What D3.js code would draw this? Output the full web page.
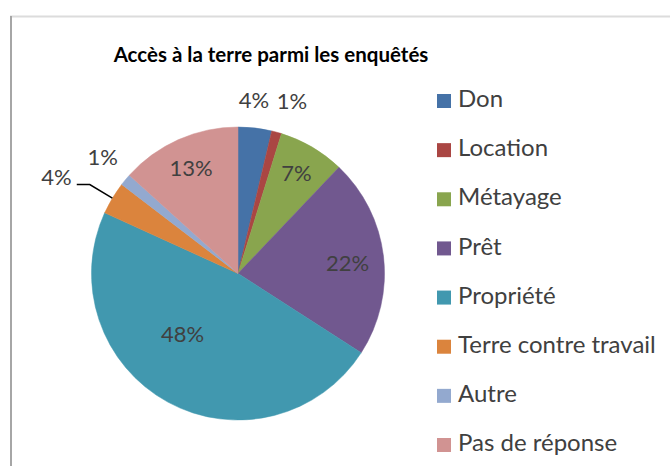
<!DOCTYPE html>
<html>
<head>
<meta charset="utf-8">
<script src="https://cdn.jsdelivr.net/npm/d3@7"></script>
<style>
  html, body { margin: 0; padding: 0; background: #fff; }
  svg { display: block; }
</style>
</head>
<body>
<svg id="chart" width="670" height="466"></svg>
<script>
// ---- data ----
const categories = ["Don", "Location", "Métayage", "Prêt", "Propriété", "Terre contre travail", "Autre", "Pas de réponse"];
const values = [3.7, 1.1, 7.3, 22.0, 47.7, 3.6, 1.3, 13.3];
const labels = ["4%", "1%", "7%", "22%", "48%", "4%", "1%", "13%"];
const colors = ["#4572A7", "#AA4643", "#89A54E", "#71588F", "#4198AF", "#DB843D", "#93A9CF", "#D19392"];
const title = "Accès à la terre parmi les enquêtés";

// ---- label placement (radius factor, angle nudge in degrees, leader) ----
const labelPlace = [
  { r: 1.17, da: -1.3 },
  { r: 1.22, da: 2.3 },
  { r: 0.78, da: 0.3 },
  { r: 0.75, da: 2.4 },
  { r: 0.57, da: 13.0 },
  { r: 1.18, da: 0, leader: true },
  { r: 1.21, da: 0.4 },
  { r: 0.77, da: -0.6 }
];

const FONT = "Lato, 'Open Sans', sans-serif";
const svg = d3.select("#chart");
const W = 670, H = 466;

// frame
svg.append("line").attr("x1", 10).attr("x2", W).attr("y1", 16.5).attr("y2", 16.5)
  .attr("stroke", "#dcdcdc").attr("stroke-width", 2);
svg.append("line").attr("x1", 11).attr("x2", 11).attr("y1", 16).attr("y2", H)
  .attr("stroke", "#a6a6a6").attr("stroke-width", 2);

// title
svg.append("text").attr("x", 271).attr("y", 62).attr("text-anchor", "middle")
  .attr("font-family", FONT).attr("font-weight", "bold")
  .attr("font-size", 20.5).attr("fill", "#000").text(title);

// pie
const cx = 238, cy = 273.5, R = 146.5;
const pie = d3.pie().sort(null).value(d => d);
const arcs = pie(values);
const arc = d3.arc().innerRadius(0).outerRadius(R);
const g = svg.append("g").attr("transform", `translate(${cx},${cy})`);

g.selectAll("path.slice").data(arcs).enter().append("path")
  .attr("class", "slice")
  .attr("d", arc)
  .attr("fill", (d, i) => colors[i])
  .attr("stroke", (d, i) => colors[i])
  .attr("stroke-width", 0.5);

function polar(rad, ang) { return [rad * Math.sin(ang), -rad * Math.cos(ang)]; }

arcs.forEach((d, i) => {
  const lp = labelPlace[i];
  const mid = (d.startAngle + d.endAngle) / 2;
  const ang = mid + lp.da * Math.PI / 180;
  const [x, y] = polar(R * lp.r, ang);
  if (lp.leader) {
    const [x0, y0] = polar(R, mid);
    const [x1, y1] = polar(R * lp.r, mid);
    const x2 = x1 - 13;
    g.append("polyline").attr("points", `${x0},${y0} ${x1},${y1} ${x2},${y1}`)
      .attr("fill", "none").attr("stroke", "#000").attr("stroke-width", 1.5);
    g.append("text").attr("x", x2 - 5).attr("y", y1 - 5).attr("text-anchor", "end")
      .attr("dominant-baseline", "middle")
      .attr("font-family", FONT).attr("font-size", 22)
      .attr("fill", "#404040").text(labels[i]);
  } else {
    g.append("text").attr("x", x).attr("y", y).attr("text-anchor", "middle")
      .attr("dominant-baseline", "middle")
      .attr("font-family", FONT).attr("font-size", 22)
      .attr("fill", "#404040").text(labels[i]);
  }
});

// legend
const legend = svg.append("g").attr("transform", "translate(437,101)");
const ly = d3.scalePoint().domain(categories).range([0, 344]);
categories.forEach((c, i) => {
  const row = legend.append("g").attr("transform", `translate(0,${ly(c)})`);
  row.append("rect").attr("x", 0).attr("y", -7).attr("width", 14).attr("height", 14)
    .attr("fill", colors[i]);
  row.append("text").attr("x", 21).attr("y", 0).attr("dominant-baseline", "middle")
    .attr("font-family", FONT).attr("font-size", 24)
    .attr("fill", "#404040").text(c);
});
</script>
</body>
</html>
